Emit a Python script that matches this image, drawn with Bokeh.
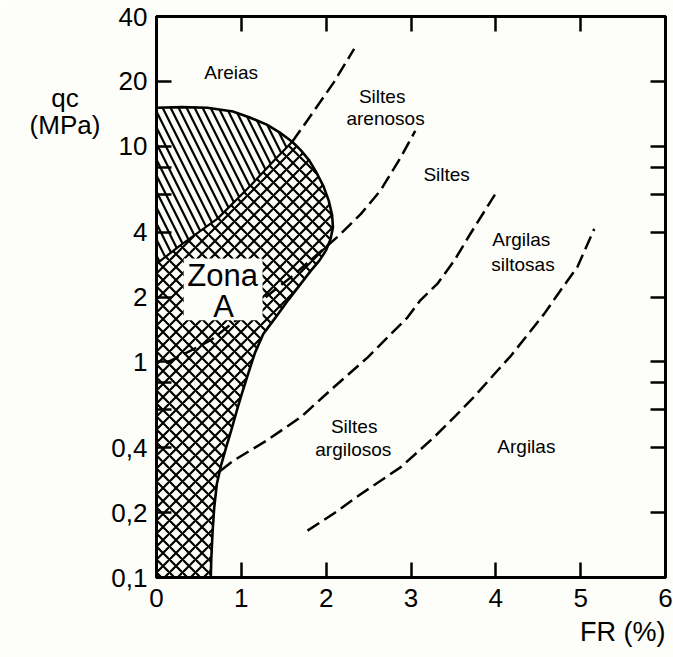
from bokeh.plotting import figure
from bokeh.models import (FixedTicker, LogAxis, LinearAxis, CustomJSTickFormatter,
                          ColumnDataSource, Title)
from bokeh.core.properties import value
from bokeh.embed import file_html
from bokeh.resources import INLINE

# ---------------- data ----------------
x_ticks = [0, 1, 2, 3, 4, 5, 6]
y_ticks = [0.1, 0.2, 0.4, 1, 2, 4, 10, 20, 40]
y_tick_labels = ["0,1", "0,2", "0,4", "1", "2", "4", "10", "20", "40"]
y_minor_ticks = [0.6, 0.8, 6, 8]

# Zone A outline: upper edge (from the qc axis to where the divider meets it)
zone_top_fr = [0.0, 0.3, 0.6, 0.9, 1.1, 1.3, 1.45, 1.60]
zone_top_qc = [15.1, 15.2, 15.1, 14.5, 13.6, 12.6, 11.6, 10.5]
# Zone A outline: right edge, from that point down to the FR axis
zone_right_fr = [1.60, 1.70, 1.80, 1.89, 1.97, 2.03, 2.07, 2.08, 2.05, 2.00, 1.92, 1.82,
                 1.70, 1.55, 1.40, 1.26, 1.16, 1.08, 1.00, 0.95, 0.88, 0.82, 0.76,
                 0.71, 0.68, 0.66, 0.645, 0.64]
zone_right_qc = [10.5, 9.6, 8.6, 7.5, 6.5, 5.6, 4.8, 4.2, 3.7, 3.3, 2.95, 2.65,
                 2.3, 1.93, 1.6, 1.35, 1.1, 0.88, 0.70, 0.60, 0.48, 0.40, 0.33,
                 0.27, 0.21, 0.16, 0.12, 0.10]

# Areias / Siltes arenosos boundary (solid inside zone A, dashed outside)
div_in_fr = [0.0, 0.28, 0.72, 1.11, 1.40, 1.60]
div_in_qc = [2.85, 3.47, 4.62, 6.58, 8.7, 10.5]
div_out_fr = [1.60, 1.78, 2.09, 2.33]
div_out_qc = [10.5, 13.2, 19.8, 28.3]

# Siltes arenosos / Siltes
b2_fr = [0.11, 0.25, 0.64, 1.00, 1.58, 2.13, 2.41, 2.64, 2.88, 3.05]
b2_qc = [0.99, 1.05, 1.26, 1.63, 2.46, 3.79, 4.86, 6.24, 8.90, 11.8]
# Siltes / Siltes argilosos + Argilas siltosas
b3_fr = [0.755, 0.91, 1.30, 1.70, 2.09, 2.49, 2.96, 3.11, 3.31, 3.51, 3.70, 4.02]
b3_qc = [0.313, 0.349, 0.432, 0.554, 0.763, 1.05, 1.61, 1.93, 2.30, 2.95, 3.93, 6.24]
# Argilas siltosas / Argilas
b4_fr = [1.78, 2.09, 2.41, 2.88, 3.27, 3.51, 3.74, 4.02, 4.18, 4.37, 4.57, 4.76, 4.96, 5.16]
b4_qc = [0.165, 0.198, 0.244, 0.325, 0.447, 0.554, 0.686, 0.912, 1.07, 1.33, 1.67,
         2.14, 2.75, 4.14]

region_labels = ["Areias", "Siltes", "arenosos", "Siltes", "Argilas", "siltosas",
                 "Siltes", "argilosos", "Argilas"]

# ---------------- figure ----------------
FONT = "Liberation Sans"
BG = "#fdfdf9"
X0, X1, Y0, Y1 = 0, 6, 0.1, 40
NBSP = "\u00a0"

p = figure(width=673, height=657, x_range=(X0, X1), y_range=(Y0, Y1),
           y_axis_type="log", output_backend="svg", toolbar_location=None,
           min_border_left=156, min_border_right=8, min_border_top=16,
           min_border_bottom=80)
p.background_fill_color = BG
p.border_fill_color = BG
p.grid.visible = False
p.outline_line_color = "black"
p.outline_line_width = 3

ylab_fmt = CustomJSTickFormatter(args=dict(vals=y_ticks, labs=y_tick_labels), code="""
for (let i = 0; i < vals.length; i++) {
  if (Math.abs(Math.log10(tick) - Math.log10(vals[i])) < 1e-6) return labs[i];
}
return "";
""")


def blank():
    return CustomJSTickFormatter(code="return '';")


def style_axis(ax, labels=True):
    ax.axis_line_color = "black"
    ax.axis_line_width = 3
    ax.major_tick_in = 15
    ax.major_tick_out = 0
    ax.major_tick_line_width = 2.5
    ax.minor_tick_in = 15
    ax.minor_tick_out = 0
    ax.minor_tick_line_width = 2.5
    ax.major_label_text_font = FONT
    ax.major_label_text_font_size = "26px"
    ax.major_label_text_color = "black"
    ax.axis_label_text_font = FONT
    ax.axis_label_text_font_style = "normal"
    ax.axis_label_text_font_size = "26px"
    ax.axis_label_text_color = "black"
    if not labels:
        ax.formatter = blank()
        ax.major_label_standoff = 0


# left (log) axis, with the "qc (MPa)" title placed near its top end
yl = p.yaxis[0]
yl.ticker = FixedTicker(ticks=y_ticks, minor_ticks=y_minor_ticks)
yl.formatter = ylab_fmt
style_axis(yl)
yl.major_label_standoff = 9
yl.axis_label = "\n" * 7 + "qc" + NBSP * 3 + "\n(MPa)"
yl.axis_label_orientation = "horizontal"
yl.axis_label_align = "end"
yl.axis_label_standoff = 8
yl.axis_label_text_align = "center"
yl.axis_label_text_line_height = 0.9

# bottom axis
xb = p.xaxis[0]
xb.ticker = FixedTicker(ticks=x_ticks)
style_axis(xb)
xb.major_label_standoff = 11
p.add_layout(Title(text="FR (%)", align="right", text_font=FONT,
                   text_font_size="27px", text_font_style="normal",
                   text_color="black", standoff=11), "below")

# right and top axes (ticks only)
yr = LogAxis(ticker=FixedTicker(ticks=y_ticks, minor_ticks=y_minor_ticks))
style_axis(yr, labels=False)
p.add_layout(yr, "right")
xt = LinearAxis(ticker=FixedTicker(ticks=x_ticks))
style_axis(xt, labels=False)
p.add_layout(xt, "above")

# ---------------- Zone A hatching ----------------
upper_fr = zone_top_fr + div_in_fr[::-1]
upper_qc = zone_top_qc + div_in_qc[::-1]
lower_fr = div_in_fr + zone_right_fr[1:] + [X0]
lower_qc = div_in_qc + zone_right_qc[1:] + [Y0]

p.patch(upper_fr, upper_qc, fill_color=None, line_color=None,
        hatch_pattern="left_diagonal_line", hatch_color="black",
        hatch_scale=16, hatch_weight=2.2)
p.patch(lower_fr, lower_qc, fill_color=None, line_color=None,
        hatch_pattern="diagonal_cross", hatch_color="black",
        hatch_scale=13, hatch_weight=2.2)

p.line(zone_top_fr + zone_right_fr[1:], zone_top_qc + zone_right_qc[1:],
       line_color="black", line_width=2.6)
p.line(div_in_fr, div_in_qc, line_color="black", line_width=2.2)

DASH = "14 6"
for fx, qy in [(div_out_fr, div_out_qc), (b2_fr, b2_qc), (b3_fr, b3_qc), (b4_fr, b4_qc)]:
    p.line(fx, qy, line_color="black", line_width=2.5, line_dash=DASH)

# ---------------- Zona A box ----------------
p.quad(left=0.32, right=1.25, bottom=1.56, top=3.02, fill_color=BG, line_color=None)
p.text(x=[0.78, 0.79], y=[2.52, 1.81], text=["Zona", "A"],
       text_font=value(FONT), text_font_size="31px", text_align="center",
       text_baseline="middle", text_color="black")

# ---------------- region labels ----------------
lab_src = ColumnDataSource(dict(
    x=[0.88, 2.66, 2.70, 3.42, 4.30, 4.32, 2.33, 2.32, 4.36],
    y=[22.0, 17.0, 13.5, 7.4, 3.70, 2.83, 0.50, 0.393, 0.405],
    t=region_labels))
p.text(x="x", y="y", text="t", source=lab_src, text_font=value(FONT),
       text_font_size="19px", text_align="center", text_baseline="middle",
       text_color="black")

open("out.html", "w").write(file_html(p, INLINE))
